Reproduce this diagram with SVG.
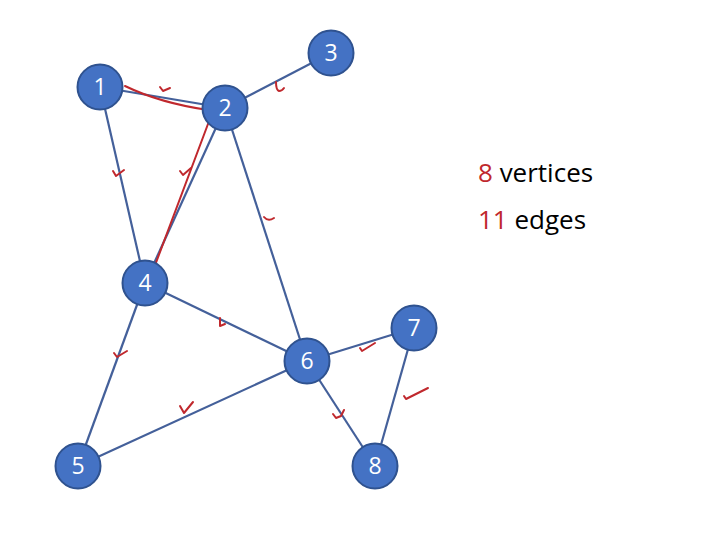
<svg xmlns="http://www.w3.org/2000/svg" width="710" height="538" viewBox="0 0 710 538">
<style>
.edge{stroke:#44609a;stroke-width:2.2;fill:none}
.tick{stroke:#c0282d;stroke-width:2;fill:none;stroke-linecap:round;stroke-linejoin:round}
.red{stroke:#c0282d;stroke-width:2;fill:none;stroke-linecap:round}
.node circle{fill:#4472c4;stroke:#2f528f;stroke-width:2}
.node text{fill:#ffffff;font-family:"Open Sans","Liberation Sans",sans-serif;font-size:23px;text-anchor:middle}
.lbl{font-family:"Open Sans","Liberation Sans",sans-serif;font-size:26px;fill:#000}
.num{fill:#c0282d}
</style>
<rect width="710" height="538" fill="#ffffff"/>
<g id="connectors">
<line class="edge" x1="100" y1="87" x2="225" y2="108"/>
<line class="edge" x1="225" y1="108" x2="331" y2="53"/>
<line class="edge" x1="100" y1="87" x2="145" y2="283"/>
<line class="edge" x1="225" y1="108" x2="145" y2="283"/>
<line class="edge" x1="225" y1="108" x2="307" y2="361"/>
<line class="edge" x1="145" y1="283" x2="307" y2="361"/>
<line class="edge" x1="145" y1="283" x2="78" y2="466"/>
<line class="edge" x1="78" y1="466" x2="307" y2="361"/>
<line class="edge" x1="307" y1="361" x2="414" y2="328"/>
<line class="edge" x1="307" y1="361" x2="375" y2="466"/>
<line class="edge" x1="414" y1="328" x2="375" y2="466"/>
</g>
<g id="annotations">
<path class="red" d="M125,86 Q160,103 208,110"/>
<path class="red" d="M211,116 L154,268"/>
<path class="tick" d="M160,87 L163,91 L170,88"/>
<path class="tick" d="M113,171 L116,176 L124,170"/>
<path class="tick" d="M180,171 L183,175 L191,168"/>
<path class="tick" d="M276,82 Q276,90 279,91 Q282,91 284,88"/>
<path class="tick" d="M264,217 Q268,222 274,218"/>
<path class="tick" d="M220,318 L220,326 L225,324"/>
<path class="tick" d="M360,348 L362,351 L375,343"/>
<path class="tick" d="M404,396 L406,399 L428,388"/>
<path class="tick" d="M333,414 L336,418 L341,416 L344,410"/>
<path class="tick" d="M114,353 L117,357 L127,351"/>
<path class="tick" d="M180,406 L184,413 L193,402"/>
</g>
<g id="n1" class="node"><circle cx="100" cy="87" r="22.5"/><text x="100" y="95">1</text></g>
<g id="n2" class="node"><circle cx="225" cy="108" r="22.5"/><text x="225" y="116">2</text></g>
<g id="n3" class="node"><circle cx="331" cy="53" r="22.5"/><text x="331" y="61">3</text></g>
<g id="n4" class="node"><circle cx="145" cy="283" r="22.5"/><text x="145" y="291">4</text></g>
<g id="n5" class="node"><circle cx="78" cy="466" r="22.5"/><text x="78" y="474">5</text></g>
<g id="n6" class="node"><circle cx="307" cy="361" r="22.5"/><text x="307" y="369">6</text></g>
<g id="n7" class="node"><circle cx="414" cy="328" r="22.5"/><text x="414" y="336">7</text></g>
<g id="n8" class="node"><circle cx="375" cy="466" r="22.5"/><text x="375" y="474">8</text></g>
<g id="legend">
<text class="lbl" x="478" y="182"><tspan class="num">8</tspan> vertices</text>
<text class="lbl" x="478" y="229"><tspan class="num">11</tspan> edges</text>
</g>
</svg>
